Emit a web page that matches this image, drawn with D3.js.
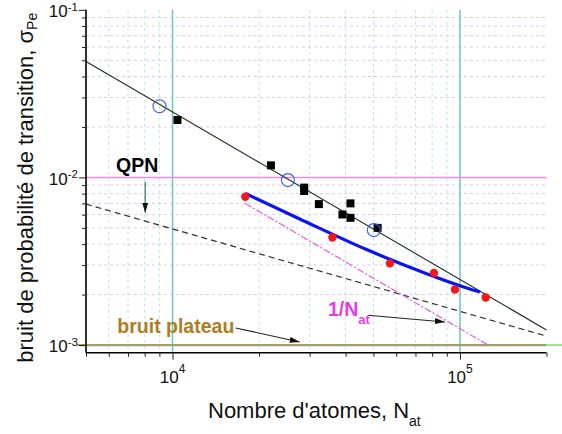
<!DOCTYPE html>
<html><head><meta charset="utf-8">
<script src="https://cdn.jsdelivr.net/npm/d3@7"></script>
<style>body{margin:0;background:#fff}svg{display:block}text{font-family:"Liberation Sans",Arial,sans-serif}</style>
</head><body><svg id="c" width="562" height="434"></svg>
<script>
// ---- data ----
const xMajorTicks = [1e4, 1e5];
const xMajorExp = ["4", "5"];
const xMinorTicks = [5000, 6000, 7000, 8000, 9000, 20000, 30000, 40000, 50000, 60000, 70000, 80000, 90000, 200000];
const yMajorTicks = [1e-3, 1e-2, 1e-1];
const yMajorExp = ["-3", "-2", "-1"];
const yMinorTicks = [2e-3, 3e-3, 4e-3, 5e-3, 6e-3, 7e-3, 8e-3, 9e-3, 2e-2, 3e-2, 4e-2, 5e-2, 6e-2, 7e-2, 8e-2, 9e-2];

const circleN = [9010, 25200, 50150];
const circleSigma = [0.0266, 0.00964, 0.00485];
const squareN = [10400, 22000, 28700, 28700, 32300, 39000, 41600, 41600, 51700];
const squareSigma = [0.0220, 0.0118, 0.00869, 0.0083, 0.00693, 0.00601, 0.0070, 0.00574, 0.0050];
const redN = [17920, 36000, 57040, 81180, 96070, 122900];
const redSigma = [0.00766, 0.00438, 0.00307, 0.00269, 0.002145, 0.00192];
const fitN = [17920, 27700, 47300, 76560, 100000, 117400];
const fitSigma = [0.00803, 0.00565, 0.00371, 0.002665, 0.00226, 0.00207];
const theoryN = [5000, 200000];
const theorySigma = [0.0492, 0.00123];
const qpnN = [5000, 200000];
const qpnSigma = [0.00693, 0.00113];
const invN = [17900, 124000];
const invSigma = [0.0070, 0.00101];
const plateauSigma = 0.001;
const decadeLinesX = [1e4, 1e5];
const decadeLineY = 1e-2;

// ---- scales ----
const svg = d3.select("#c");
const x = d3.scaleLog().domain([5000, 200000]).range([86, 546.5]);
const y = d3.scaleLog().domain([9e-4, 0.1]).range([352.7, 9.8]);
const X0 = 86, X1 = 546.5, Y0 = 352.7, Y1 = 9.8;

// grid
const g = svg.append("g");
g.selectAll(".vg").data(xMinorTicks.filter(d => d > 5000 && d < 200000)).join("line")
  .attr("x1", d => x(d)).attr("x2", d => x(d)).attr("y1", Y1).attr("y2", Y0)
  .attr("stroke", "#b4e8e8").attr("stroke-width", 1).attr("stroke-dasharray", "3,3");
g.selectAll(".hg").data(yMinorTicks).join("line")
  .attr("x1", X0).attr("x2", X1).attr("y1", d => y(d)).attr("y2", d => y(d))
  .attr("stroke", "#dcc8f0").attr("stroke-width", 1).attr("stroke-dasharray", "3,3");

// decade lines
g.selectAll(".dl").data(decadeLinesX).join("line")
  .attr("x1", d => x(d)).attr("x2", d => x(d)).attr("y1", Y1).attr("y2", Y0)
  .attr("stroke", "#6cc4c4").attr("stroke-width", 1.5);
g.append("line").attr("x1", X0).attr("x2", X1).attr("y1", y(decadeLineY)).attr("y2", y(decadeLineY))
  .attr("stroke", "#e48ee4").attr("stroke-width", 1.5);
g.append("line").attr("x1", 77).attr("x2", X1).attr("y1", y(plateauSigma)).attr("y2", y(plateauSigma))
  .attr("stroke", "#a49c6c").attr("stroke-width", 2.2);
g.append("line").attr("x1", X1).attr("x2", 562).attr("y1", y(plateauSigma)).attr("y2", y(plateauSigma))
  .attr("stroke", "#7cd87c").attr("stroke-width", 1.5);

// lines
const line = d3.line().x(d => x(d[0])).y(d => y(d[1]));
svg.append("path").attr("d", line(d3.zip(qpnN, qpnSigma))).attr("fill", "none")
  .attr("stroke", "#303030").attr("stroke-width", 1.2).attr("stroke-dasharray", "6,4");
svg.append("path").attr("d", line(d3.zip(invN, invSigma))).attr("fill", "none")
  .attr("stroke", "#e050e8").attr("stroke-width", 1.1).attr("stroke-dasharray", "7,2,2,2");
svg.append("path").attr("d", line(d3.zip(theoryN, theorySigma))).attr("fill", "none")
  .attr("stroke", "#1a2e1a").attr("stroke-width", 1.1);
svg.append("path").attr("d", d3.line().x(d => x(d[0])).y(d => y(d[1])).curve(d3.curveMonotoneX)(d3.zip(fitN, fitSigma)))
  .attr("fill", "none").attr("stroke", "#0a14f0").attr("stroke-width", 3.2);

// markers
svg.selectAll(".sq").data(d3.zip(squareN, squareSigma)).join("rect")
  .attr("x", d => x(d[0]) - 4).attr("y", d => y(d[1]) - 4).attr("width", 8).attr("height", 8)
  .attr("fill", "#000");
svg.selectAll(".rd").data(d3.zip(redN, redSigma)).join("circle")
  .attr("cx", d => x(d[0])).attr("cy", d => y(d[1])).attr("r", 4.2).attr("fill", "#f41818");
svg.selectAll(".oc").data(d3.zip(circleN, circleSigma)).join("circle")
  .attr("cx", d => x(d[0])).attr("cy", d => y(d[1])).attr("r", 6.5)
  .attr("fill", "none").attr("stroke", "#3a5cf0").attr("stroke-width", 1.1);

// axes
const ax = svg.append("g").attr("transform", `translate(0,${Y0})`);
ax.call(d3.axisBottom(x).tickValues(xMinorTicks).tickSize(4).tickFormat(""));
const ax2 = svg.append("g").attr("transform", `translate(0,${Y0})`);
ax2.call(d3.axisBottom(x).tickValues(xMajorTicks).tickSize(7).tickFormat(""));
const ay = svg.append("g").attr("transform", `translate(${X0},0)`);
ay.call(d3.axisLeft(y).tickValues(yMinorTicks).tickSize(4).tickFormat(""));
const ay2 = svg.append("g").attr("transform", `translate(${X0},0)`);
ay2.call(d3.axisLeft(y).tickValues(yMajorTicks).tickSize(7).tickFormat(""));
svg.selectAll(".domain").attr("stroke", "#000").attr("stroke-width", 1.6);
svg.selectAll(".tick line").attr("stroke", "#222").attr("stroke-width", 1);
ax.select(".domain").attr("d", `M${X0},0H${X1}`);
ax2.select(".domain").remove();
ay.select(".domain").attr("d", `M0,${Y0}V${Y1}`);
ay2.select(".domain").remove();

// tick labels
xMajorTicks.forEach((v, i) => {
  const t = svg.append("text").attr("x", x(v)).attr("y", 383).attr("text-anchor", "middle")
    .attr("font-size", 17).attr("fill", "#111");
  t.append("tspan").text("10");
  t.append("tspan").attr("font-size", 12).attr("dy", -10).text(xMajorExp[i]);
});
yMajorTicks.forEach((v, i) => {
  const t = svg.append("text").attr("x", 78).attr("y", y(v) + 7.3).attr("text-anchor", "end")
    .attr("font-size", 17).attr("fill", "#111");
  t.append("tspan").text("10");
  t.append("tspan").attr("font-size", 11.5).attr("dy", -6.6).text(yMajorExp[i]);
});

// axis titles
const xt = svg.append("text").attr("x", 208).attr("y", 418).attr("font-size", 22).attr("fill", "#111");
xt.append("tspan").text("Nombre d'atomes, N");
xt.append("tspan").attr("font-size", 14).attr("dy", 8).text("at");
const yt = svg.append("text").attr("transform", "translate(32.5,362.7) rotate(-90)")
  .attr("font-size", 22).attr("fill", "#111");
yt.append("tspan").text("bruit de probabilité de transition, σ");
yt.append("tspan").attr("font-size", 14).attr("dy", 4.5).text("Pe");

// annotations
const defs = svg.append("defs");
defs.append("marker").attr("id", "ah").attr("viewBox", "0 0 10 6").attr("refX", 10).attr("refY", 3)
  .attr("markerWidth", 10).attr("markerHeight", 6).attr("markerUnits", "userSpaceOnUse").attr("orient", "auto")
  .append("path").attr("d", "M0,0L10,3L0,6Z").attr("fill", "#111");
const arrows = [
  {a: [8034, 0.00941], b: [8034, 0.00615], c: "#1f6a6a"},
  {a: [47800, 0.001506], b: [88650, 0.001373], c: "#222"},
  {a: [16580, 0.001265], b: [27700, 0.001043], c: "#222"}
];
svg.selectAll(".arr").data(arrows).join("line")
  .attr("x1", d => x(d.a[0])).attr("y1", d => y(d.a[1]))
  .attr("x2", d => x(d.b[0])).attr("y2", d => y(d.b[1]))
  .attr("stroke", d => d.c).attr("stroke-width", 1.1).attr("marker-end", "url(#ah)");

svg.append("text").attr("x", 116).attr("y", 172).attr("font-size", 19.5).attr("font-weight", "bold")
  .attr("fill", "#000").text("QPN");
const inv = svg.append("text").attr("x", 328).attr("y", 316).attr("font-size", 19.5).attr("font-weight", "bold")
  .attr("fill", "#e63ce6");
inv.append("tspan").text("1/N");
inv.append("tspan").attr("font-size", 13).attr("dy", 8).text("at");
svg.append("text").attr("x", 117.3).attr("y", 333.3).attr("font-size", 19.5).attr("font-weight", "bold")
  .attr("fill", "#b07c1e").text("bruit plateau");
</script></body></html>
